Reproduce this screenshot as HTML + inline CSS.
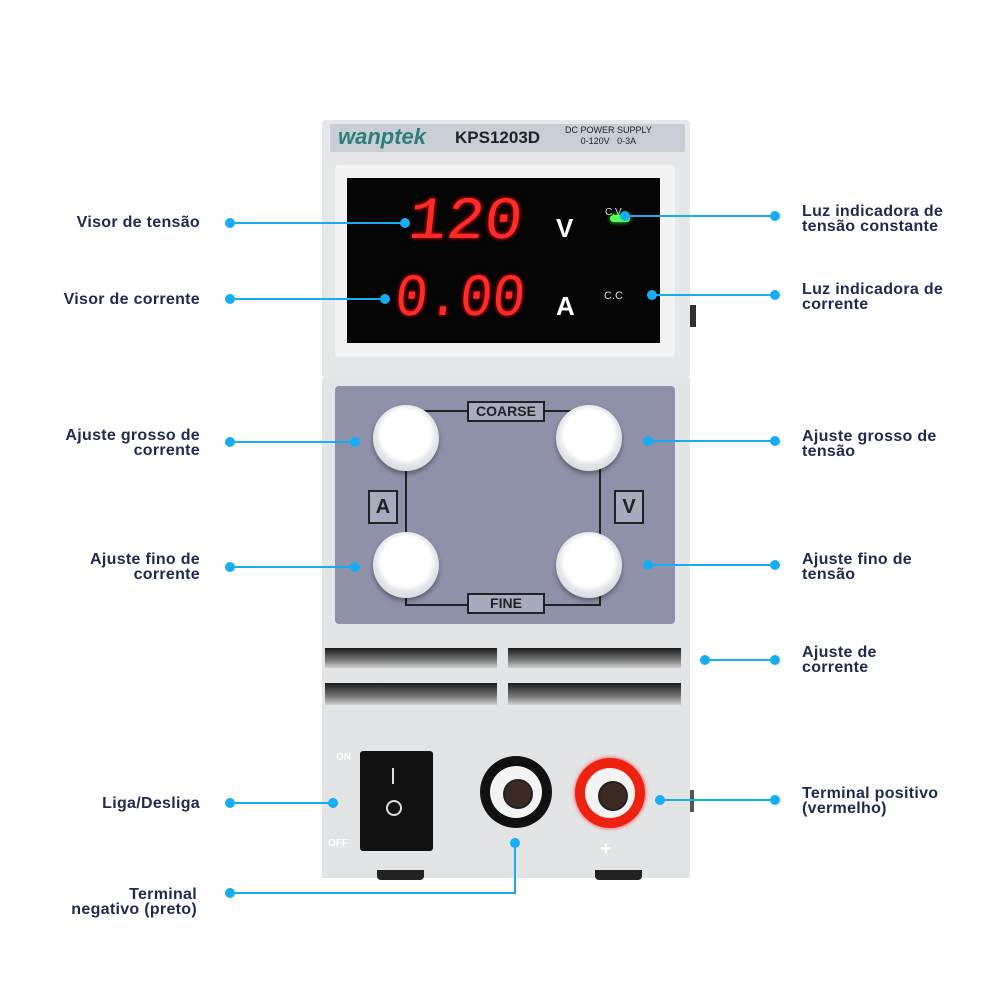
<!DOCTYPE html>
<html><head><meta charset="utf-8"><style>
body{margin:0;width:1000px;height:1000px;background:#fff;position:relative;overflow:hidden;font-family:"Liberation Sans",sans-serif}
.a{position:absolute}
.lbl{position:absolute;color:#1e2a4f;font-size:16px;font-weight:bold;line-height:15px;letter-spacing:.3px}
.l{text-align:right}
.seg{font-family:"Liberation Mono",monospace;color:#ff2a2a;font-size:60px;line-height:60px;text-shadow:0 0 4px #f00;transform-origin:0 0}
.knob{position:absolute;width:66px;height:66px;border-radius:50%;background:radial-gradient(circle at 50% 45%,#fff 50%,#e3e5ea 62%,#c4c7d0 100%);box-shadow:0 3px 5px rgba(0,0,0,.35)}
.vent{position:absolute;background:linear-gradient(#1a1a1a,#777 60%,#cfd0d2);}
</style></head><body>
<div class="a" style="left:322px;top:120px;width:368px;height:258px;background:#e6e7e9;border-radius:4px"></div>
<div class="a" style="left:330px;top:124px;width:355px;height:28px;background:#c9ced6;border-radius:2px"></div>
<div class="a" style="left:338px;top:124px;font:italic bold 22px 'Liberation Sans';color:#2e7d78">wanptek</div>
<div class="a" style="left:455px;top:128px;font:bold 17px 'Liberation Sans';color:#222">KPS1203D</div>
<div class="a" style="left:565px;top:125px;font:9px 'Liberation Sans';color:#222;line-height:11px;text-align:center">DC POWER SUPPLY<br>0-120V&nbsp;&nbsp;&nbsp;0-3A</div>
<div class="a" style="left:335px;top:165px;width:340px;height:192px;background:#f2f2f3;border-radius:3px"></div>
<div class="a" style="left:347px;top:178px;width:313px;height:165px;background:#050505"></div>
<div class="a seg" style="left:412px;top:193px;transform:scaleX(1.05) skewX(-6deg)">120</div>
<div class="a seg" style="left:398px;top:270px;transform:scaleX(0.9) skewX(-6deg)">0.00</div>
<div class="a" style="left:556px;top:213px;color:#fff;font:bold 26px 'Liberation Sans'">V</div>
<div class="a" style="left:556px;top:291px;color:#fff;font:bold 26px 'Liberation Sans'">A</div>
<div class="a" style="left:605px;top:207px;color:#ddd;font:10px 'Liberation Sans'">C.V</div>
<div class="a" style="left:610px;top:215px;width:20px;height:7px;border-radius:4px;background:#5f5;box-shadow:0 0 5px #3f3"></div>
<div class="a" style="left:604px;top:290px;color:#ddd;font:11px 'Liberation Sans'">C.C</div>
<div class="a" style="left:322px;top:378px;width:368px;height:500px;background:#e3e4e6"></div>
<div class="a" style="left:335px;top:386px;width:340px;height:238px;background:#8e91a7;border-radius:4px"></div>
<div class="a" style="left:405px;top:410px;width:192px;height:192px;border:2px solid #222"></div>
<div class="a" style="left:467px;top:401px;width:74px;height:17px;background:#a8abbd;border:2px solid #222;font:bold 14px 'Liberation Sans';text-align:center;line-height:17px;color:#222">COARSE</div>
<div class="a" style="left:467px;top:593px;width:74px;height:17px;background:#a8abbd;border:2px solid #222;font:bold 14px 'Liberation Sans';text-align:center;line-height:17px;color:#222">FINE</div>
<div class="a" style="left:368px;top:490px;width:26px;height:30px;background:#a8abbd;border:2px solid #222;font:bold 20px 'Liberation Sans';text-align:center;line-height:30px;color:#222">A</div>
<div class="a" style="left:614px;top:490px;width:26px;height:30px;background:#a8abbd;border:2px solid #222;font:bold 20px 'Liberation Sans';text-align:center;line-height:30px;color:#222">V</div>
<div class="knob" style="left:373px;top:405px"></div>
<div class="knob" style="left:556px;top:405px"></div>
<div class="knob" style="left:373px;top:532px"></div>
<div class="knob" style="left:556px;top:532px"></div>
<div class="vent" style="left:325px;top:648px;width:172px;height:20px"></div>
<div class="vent" style="left:508px;top:648px;width:173px;height:20px"></div>
<div class="vent" style="left:325px;top:683px;width:172px;height:22px"></div>
<div class="vent" style="left:508px;top:683px;width:173px;height:22px"></div>
<div class="a" style="left:360px;top:751px;width:73px;height:100px;background:#111;border-radius:3px"></div>
<div class="a" style="left:392px;top:768px;width:2px;height:16px;background:#ddd"></div>
<div class="a" style="left:386px;top:800px;width:12px;height:12px;border:2px solid #ddd;border-radius:50%"></div>
<div class="a" style="left:336px;top:752px;color:#fff;font:bold 10px 'Liberation Sans'">ON</div>
<div class="a" style="left:328px;top:838px;color:#fff;font:bold 10px 'Liberation Sans'">OFF</div>
<div class="a" style="left:480px;top:756px;width:72px;height:72px;border-radius:50%;background:#111"></div>
<div class="a" style="left:490px;top:766px;width:52px;height:52px;border-radius:50%;background:#f3f3f3"></div>
<div class="a" style="left:503px;top:779px;width:26px;height:26px;border-radius:50%;background:#3a2a22;border:2px solid #222"></div>
<div class="a" style="left:575px;top:758px;width:70px;height:70px;border-radius:50%;background:#e21;box-shadow:0 0 4px #f33"></div>
<div class="a" style="left:585px;top:768px;width:50px;height:50px;border-radius:50%;background:#f3f3f3"></div>
<div class="a" style="left:598px;top:781px;width:26px;height:26px;border-radius:50%;background:#3a2a22;border:2px solid #222"></div>
<div class="a" style="left:600px;top:838px;color:#fff;font:bold 20px 'Liberation Sans'">+</div>
<div class="a" style="left:377px;top:870px;width:47px;height:10px;background:#222;border-radius:0 0 4px 4px"></div>
<div class="a" style="left:595px;top:870px;width:47px;height:10px;background:#222;border-radius:0 0 4px 4px"></div>
<div class="a" style="left:690px;top:305px;width:6px;height:22px;background:#333"></div>
<div class="a" style="left:690px;top:790px;width:4px;height:22px;background:#555"></div>
<svg class="a" style="left:0;top:0" width="1000" height="1000">
<g stroke="#16aef0" stroke-width="2" fill="none">
<path d="M230 223H405M230 299H385M230 442H355M230 567H355M230 803H333M230 893H515V843"/>
<path d="M625 216H775M652 295H775M648 441H775M648 565H775M705 660H775M660 800H775"/>
</g>
<g fill="#16aef0">
<circle cx="230" cy="223" r="5"/><circle cx="405" cy="223" r="5"/>
<circle cx="230" cy="299" r="5"/><circle cx="385" cy="299" r="5"/>
<circle cx="230" cy="442" r="5"/><circle cx="355" cy="442" r="5"/>
<circle cx="230" cy="567" r="5"/><circle cx="355" cy="567" r="5"/>
<circle cx="230" cy="803" r="5"/><circle cx="333" cy="803" r="5"/>
<circle cx="230" cy="893" r="5"/><circle cx="515" cy="843" r="5"/>
<circle cx="625" cy="216" r="5"/><circle cx="775" cy="216" r="5"/>
<circle cx="652" cy="295" r="5"/><circle cx="775" cy="295" r="5"/>
<circle cx="648" cy="441" r="5"/><circle cx="775" cy="441" r="5"/>
<circle cx="648" cy="565" r="5"/><circle cx="775" cy="565" r="5"/>
<circle cx="705" cy="660" r="5"/><circle cx="775" cy="660" r="5"/>
<circle cx="660" cy="800" r="5"/><circle cx="775" cy="800" r="5"/>
</g></svg>
<div class="lbl l" style="right:800px;top:215px">Visor de tensão</div>
<div class="lbl l" style="right:800px;top:292px">Visor de corrente</div>
<div class="lbl l" style="right:800px;top:428px">Ajuste grosso de<br>corrente</div>
<div class="lbl l" style="right:800px;top:552px">Ajuste fino de<br>corrente</div>
<div class="lbl l" style="right:800px;top:796px">Liga/Desliga</div>
<div class="lbl l" style="right:803px;top:887px">Terminal<br>negativo (preto)</div>
<div class="lbl" style="left:802px;top:204px">Luz indicadora de<br>tensão constante</div>
<div class="lbl" style="left:802px;top:282px">Luz indicadora de<br>corrente</div>
<div class="lbl" style="left:802px;top:429px">Ajuste grosso de<br>tensão</div>
<div class="lbl" style="left:802px;top:552px">Ajuste fino de<br>tensão</div>
<div class="lbl" style="left:802px;top:645px">Ajuste de<br>corrente</div>
<div class="lbl" style="left:802px;top:786px">Terminal positivo<br>(vermelho)</div>
</body></html>
